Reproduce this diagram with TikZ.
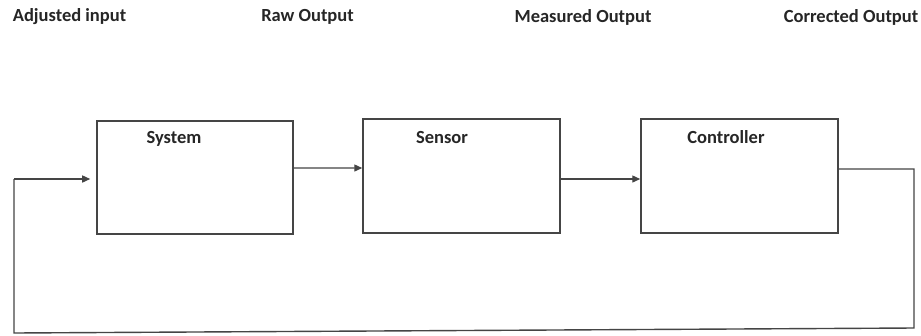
\documentclass[tikz,border=0pt]{standalone}
\usepackage{fontspec}
\setmainfont{Carlito}
\usetikzlibrary{arrows.meta}
\definecolor{ink}{HTML}{262626}
\definecolor{wire}{HTML}{454545}
\tikzset{
  blockbox/.style={draw=wire, line width=1.5bp, minimum width=197bp, minimum height=114bp, inner sep=0pt},
  heading/.style={font=\bfseries\fontsize{18.5bp}{22bp}\selectfont, text=ink, inner sep=0pt, anchor=center},
  flow/.style={draw=wire, line width=1.4bp},
  tip/.style={-{Triangle[length=8bp,width=7bp]}}
}
\begin{document}
\begin{tikzpicture}[x=1bp, y=-1bp]
  \useasboundingbox[fill=white] (0,0) rectangle (921,335);

  % signal names along the top
  \node[heading] (hIn)   at (69.5,17)  {Adjusted input};
  \node[heading] (hRaw)  at (307.5,17) {Raw Output};
  \node[heading] (hMeas) at (583,17)   {Measured Output};
  \node[heading] (hCorr) at (851,17)   {Corrected Output};

  % the three blocks of the loop
  \node[blockbox, minimum width=196bp, minimum height=113bp] (sys) at (195,177.5) {};
  \node[blockbox] (sen) at (461.5,176) {};
  \node[blockbox] (ctl) at (739.5,176) {};

  \node[heading] (tSys) at (174,139) {System};
  \node[heading] (tSen) at (442,137) {Sensor};
  \node[heading] (tCtl) at (726,137) {Controller};

  % forward path
  \draw[flow, tip] ([yshift=9.5bp]sys.east) -- ([yshift=8bp]sen.west);
  \draw[flow, tip] ([yshift=-3bp]sen.east) -- ([yshift=-3bp]ctl.west);

  % feedback path back to the system input
  \coordinate (fbTop) at (914,169);
  \coordinate (fbR)   at (914,328);
  \coordinate (fbL)   at (14,333);
  \coordinate (fbUp)  at (14,179);
  \draw[flow] ([yshift=7bp]ctl.east) -- (fbTop) -- (fbR) -- (fbL) -- (fbUp);
  \draw[flow, tip, shorten >=6bp] (fbUp) -- ([yshift=-1.5bp]sys.west);
\end{tikzpicture}
\end{document}
